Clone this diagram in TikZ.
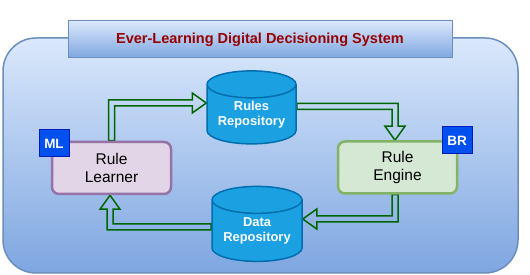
\documentclass[tikz,border=0pt]{standalone}
\usepackage{fontspec}
\setmainfont{Liberation Sans}
\usetikzlibrary{shapes,positioning,calc,backgrounds}
\definecolor{sysline}{HTML}{6C8EBF}
\definecolor{systop}{HTML}{DAE8FC}
\definecolor{sysbot}{HTML}{7EA6E0}
\definecolor{titlered}{HTML}{990000}
\definecolor{repofill}{HTML}{1BA1E2}
\definecolor{repoline}{HTML}{006EAF}
\definecolor{mlfill}{HTML}{E1D5E7}
\definecolor{mlline}{HTML}{9673A6}
\definecolor{brfill}{HTML}{D5E8D4}
\definecolor{brline}{HTML}{82B366}
\definecolor{tagfill}{HTML}{0050EF}
\definecolor{tagline}{HTML}{001DBC}
\definecolor{flowgreen}{HTML}{006600}

\begin{document}
\begin{tikzpicture}[x=1pt,y=1pt,
  sysbox/.style={draw=sysline,line width=1.5pt,top color=systop,bottom color=sysbot,rounded corners=33pt,minimum width=515pt,minimum height=235pt,inner sep=0pt},
  titlebox/.style={draw=sysline,line width=1pt,top color=systop,bottom color=sysbot,minimum width=384pt,minimum height=37pt,inner sep=0pt,text=titlered,font=\fontsize{14.5}{17}\selectfont\bfseries},
  repo/.style={cylinder,shape border rotate=90,aspect=0.4,draw=repoline,line width=1.5pt,fill=repofill,inner sep=0pt,align=center,text=white,font=\fontsize{12.9}{15}\selectfont\bfseries},
  unit/.style={draw,line width=2.5pt,rounded corners=7pt,minimum width=119pt,minimum height=52pt,inner sep=0pt,align=center,font=\fontsize{15.5}{18}\selectfont},
  tag/.style={draw=tagline,line width=1pt,fill=tagfill,minimum width=30pt,minimum height=27pt,inner sep=0pt,text=white,font=\fontsize{13.5}{16}\selectfont\bfseries},
  flow/.style={draw=flowgreen,line width=1.5pt,line join=miter}
]
\useasboundingbox (0,0) rectangle (530,275);
% Components
\node[repo,minimum width=89pt,minimum height=73pt] (rules) at (251.5,160.5) {Rules\\Repository};
\node[repo,minimum width=90pt,minimum height=75pt] (data)  at (257,44)      {Data\\Repository};
\node[unit,draw=mlline,fill=mlfill] (learner) at (111.5,107)   {Rule\\Learner};
\node[unit,draw=brline,fill=brfill] (engine)  at (397.5,107.5) {Rule\\Engine};
\node[tag] (ml) at (54,131.5)  {ML};
\node[tag] (br) at (457,134.5) {BR};

% Frame and flows
\begin{scope}[on background layer]
\node[sysbox] (sys) at (260.5,119.5) {};
\draw[flow] ([xshift=-3pt]learner.north) |- ([shift={(-14pt,14.5pt)}]rules.west) -- ++(0,7pt)
  -- ([yshift=11.5pt]rules.west) -- ++(-14pt,-10pt) -- ++(0,7pt) -| ([xshift=3pt]learner.north) -- cycle;
\draw[flow] ([yshift=11pt]rules.east) -| ([shift={(0.5pt,14pt)}]engine.north) -- ++(7pt,0)
  -- ([xshift=-2.5pt]engine.north) -- ++(-10pt,14pt) -- ++(7pt,0) |- ([yshift=5pt]rules.east) -- cycle;
\draw[flow] ([xshift=0.5pt]engine.south) |- ([shift={(14pt,9pt)}]data.east) -- ++(0,-7pt)
  -- ([yshift=12pt]data.east) -- ++(14pt,10pt) -- ++(0,-7pt) -| ([xshift=-5.5pt]engine.south) -- cycle;
\draw[flow] ([yshift=1pt]data.west) -| ([shift={(-4.5pt,-14pt)}]learner.south) -- ++(-7pt,0)
  -- ([xshift=-1.5pt]learner.south) -- ++(10pt,-14pt) -- ++(-7pt,0) |- ([yshift=7pt]data.west) -- cycle;
\end{scope}

% Title
\node[titlebox] (title) at (260,235.5) {Ever-Learning Digital Decisioning System};
\end{tikzpicture}
\end{document}
